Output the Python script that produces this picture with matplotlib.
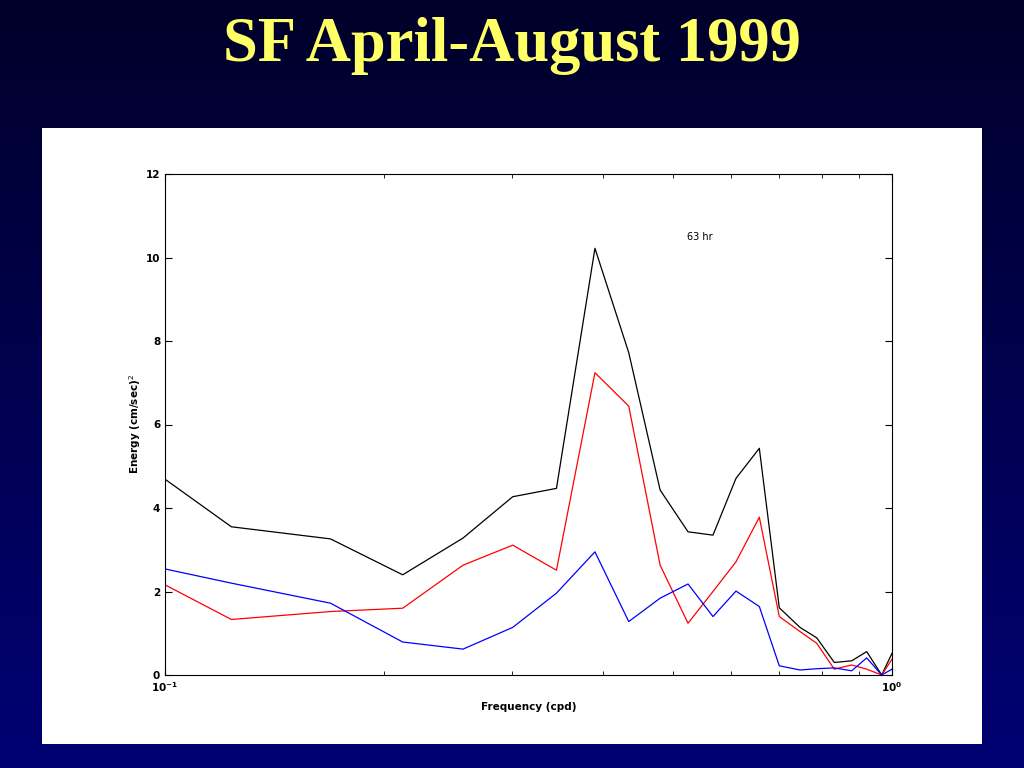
import numpy as np
import matplotlib
matplotlib.use('Agg')
import matplotlib.pyplot as plt
from matplotlib.ticker import NullFormatter

# frequency (cpd) and energy for the three curves
freq = [0.100, 0.1234, 0.1689, 0.2123, 0.257, 0.3008, 0.3455, 0.3903, 0.4344, 0.4798,
        0.5241, 0.5672, 0.6101, 0.6569, 0.6998, 0.7473, 0.7879, 0.8330, 0.8802, 0.9230,
        0.9679, 1.000]
total = [4.69, 3.55, 3.26, 2.40, 3.28, 4.27, 4.47, 10.22, 7.72, 4.43,
         3.43, 3.35, 4.71, 5.43, 1.61, 1.14, 0.89, 0.30, 0.34, 0.56,
         0.0, 0.52]
red = [2.16, 1.33, 1.52, 1.60, 2.63, 3.11, 2.51, 7.24, 6.44, 2.63,
       1.24, 2.00, 2.71, 3.78, 1.40, 1.04, 0.76, 0.14, 0.24, 0.14,
       0.0, 0.38]
blue = [2.54, 2.20, 1.72, 0.79, 0.62, 1.14, 1.96, 2.95, 1.28, 1.84,
        2.18, 1.40, 2.01, 1.64, 0.22, 0.12, 0.15, 0.17, 0.10, 0.41,
        0.0, 0.14]

fig = plt.figure(figsize=(10.24, 7.68), dpi=100)

# navy gradient background
bg = fig.add_axes([0, 0, 1, 1])
grad = np.linspace(0, 1, 256).reshape(-1, 1)
cmap = matplotlib.colors.LinearSegmentedColormap.from_list('navy', ['#00002a', '#000074'])
bg.imshow(grad, aspect='auto', cmap=cmap, extent=[0, 1, 0, 1], origin='upper')
bg.set_axis_off()

fig.text(0.5, 0.94, 'SF April-August 1999', color='#ffff66', fontsize=45,
         fontweight='bold', family='Liberation Serif', ha='center', va='center')

# white panel
panel = fig.add_axes([42/1024, 1-744/768, 940/1024, 616/768])
panel.set_facecolor('white')
panel.set_xticks([]); panel.set_yticks([])
for s in panel.spines.values():
    s.set_visible(False)

ax = fig.add_axes([165/1024, 1-675/768, 727/1024, 501/768])
ax.plot(freq, total, color='black', lw=0.9)
ax.plot(freq, red, color='red', lw=0.9)
ax.plot(freq, blue, color='blue', lw=0.9)
ax.set_xscale('log')
ax.set_xlim(0.1, 1)
ax.set_ylim(0, 12)
ax.set_yticks([0, 2, 4, 6, 8, 10, 12])
ax.xaxis.set_minor_formatter(NullFormatter())
ax.tick_params(which='both', direction='in', top=True, right=True, labelsize=7.5)
ax.tick_params(which='major', length=5)
ax.tick_params(which='minor', length=3)
for lab in ax.get_xticklabels() + ax.get_yticklabels():
    lab.set_fontweight('bold')
ax.set_xlabel('Frequency (cpd)', fontsize=7.5, fontweight='bold', labelpad=6)
ax.set_ylabel('Energy (cm/sec)$^2$', fontsize=7.5, fontweight='bold', labelpad=2)
ax.text(0.544, 10.5, '63 hr', fontsize=7, ha='center', va='center')
for s in ax.spines.values():
    s.set_linewidth(0.8)

fig.savefig('out.png', dpi=100)
